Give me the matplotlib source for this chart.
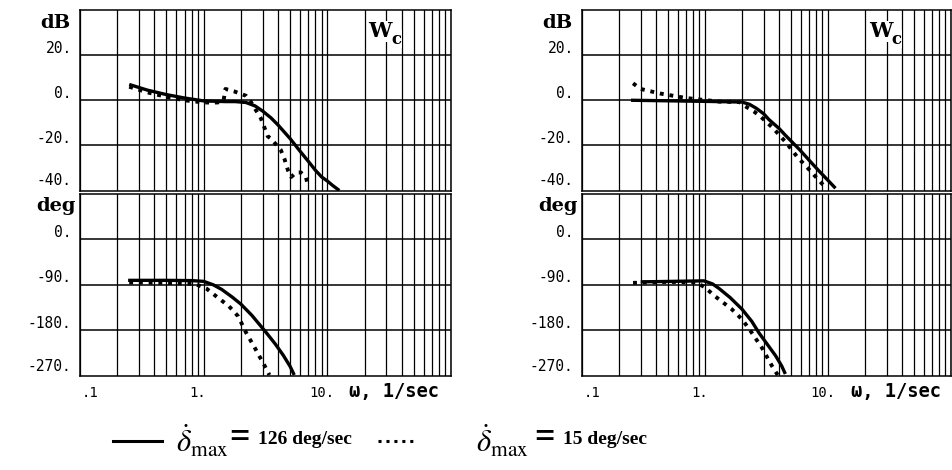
import matplotlib
matplotlib.use("Agg")
import matplotlib.pyplot as plt
from matplotlib.lines import Line2D
from matplotlib.ticker import NullFormatter, LogLocator, FixedLocator

plt.rcParams['mathtext.fontset'] = 'stix'

# ---------------- data ----------------
x_ticks = [0.1, 1.0, 10.0]
x_tick_labels = [".1", "1.", "10."]
mag_ticks = [20, 0, -20, -40]
mag_tick_labels = ["20.", "0.", "-20.", "-40."]
ph_ticks = [0, -90, -180, -270]
ph_tick_labels = ["0.", "-90.", "-180.", "-270."]

# left panel
L_mag_solid_w = [0.25, 0.35, 0.5, 0.7, 1.0, 1.5, 1.8, 2.2, 2.6, 3.0, 3.5, 4.0, 5.0, 6.0, 7.0, 8.0, 9.0, 10.0, 11.0, 12.5]
L_mag_solid_db = [7, 4.5, 2.5, 1, -0.3, -0.6, -0.6, -1.0, -2.5, -4.8, -7.8, -11, -17, -22.5, -27, -31, -34, -35.8, -37.7, -40]
L_mag_dot_w = [0.25, 0.35, 0.5, 0.7, 1.0, 1.3, 1.45, 1.5, 1.75, 2.2, 2.4, 2.9, 3.3, 3.5, 4.2, 4.5, 4.8, 5.1, 5.6, 6.1, 6.7, 7.0]
L_mag_dot_db = [6, 3.5, 1.5, 0, -1, -1, 0, 5, 4, 2, -0.6, -8, -16, -17, -22, -26, -31, -34, -32, -32, -34, -38]
L_ph_solid_w = [0.245, 0.5, 0.8, 1.0, 1.2, 1.4, 1.7, 2.0, 2.45, 2.8, 3.2, 3.8, 4.4, 5.0, 5.4]
L_ph_solid_deg = [-81, -81, -81.5, -83, -90, -99, -114, -128, -150, -167, -184, -207, -229, -251, -268]
L_ph_dot_w = [0.25, 0.5, 0.85, 1.05, 1.3, 1.6, 1.9, 2.2, 2.6, 3.1, 3.4]
L_ph_dot_deg = [-85, -86, -88, -97, -115, -132, -152, -184, -215, -249, -268]

# right panel
R_mag_solid_w = [0.25, 1.0, 2.0, 2.3, 2.6, 3.0, 3.3, 4.0, 4.5, 5.9, 7.0, 8.5, 10.0, 11.5]
R_mag_solid_db = [0, -0.5, -0.8, -1.8, -3.5, -6, -8.5, -12.5, -15.5, -22, -26.5, -31.5, -35.5, -39]
R_mag_dot_w = [0.26, 0.3, 0.43, 0.7, 1.3, 1.9, 2.1, 2.5, 2.8, 3.6, 4.6, 5.6, 7.1, 8.6, 9.5]
R_mag_dot_db = [7.5, 5, 3, 1, -0.6, -0.8, -2.5, -5, -7, -12.5, -19, -25, -31, -36, -38.5]
R_ph_solid_w = [0.3, 0.98, 1.15, 1.3, 1.6, 2.0, 2.4, 2.75, 3.2, 3.75, 4.2, 4.5]
R_ph_solid_deg = [-84, -82, -88, -97, -115, -138, -162, -185, -207, -230, -250, -266]
R_ph_dot_w = [0.26, 0.5, 0.85, 1.0, 1.2, 1.65, 2.0, 2.3, 2.9, 3.5, 3.9]
R_ph_dot_deg = [-86, -84, -85, -95, -112, -138, -158, -178, -214, -250, -268]

legend_solid = "126 deg/sec"
legend_dot = "15 deg/sec"

# ---------------- figure ----------------
W, H = 953, 470
fig = plt.figure(figsize=(W / 100, H / 100), dpi=100)

def fx(px):
    return px / W

def fy(py):
    return 1 - py / H

mono = "DejaVu Sans Mono"
serif = "DejaVu Serif"
DOT = (0, (1.0, 1.5))

def style_axes(ax, ylim, yticks):
    ax.set_xscale('log')
    ax.set_xlim(0.1, 100)
    ax.set_ylim(*ylim)
    ax.xaxis.set_major_locator(LogLocator(base=10, numticks=10))
    ax.xaxis.set_minor_locator(LogLocator(base=10, subs=range(2, 10), numticks=20))
    ax.yaxis.set_major_locator(FixedLocator(yticks))
    ax.xaxis.set_major_formatter(NullFormatter())
    ax.xaxis.set_minor_formatter(NullFormatter())
    ax.yaxis.set_major_formatter(NullFormatter())
    ax.tick_params(which='both', length=0)
    ax.grid(True, which='both', axis='x', color='black', lw=0.9)
    ax.grid(True, which='major', axis='y', color='black', lw=1.1)
    for s in ax.spines.values():
        s.set_linewidth(1.1)
        s.set_color('black')

def panel(x0, x1, mag_s, mag_d, ph_s, ph_d, label_x):
    top = fig.add_axes([fx(x0), fy(190.5), fx(x1 - x0), (190.5 - 10) / H])
    bot = fig.add_axes([fx(x0), fy(376), fx(x1 - x0), (376 - 193.8) / H])
    style_axes(top, (-40, 40), [20, 0, -20])
    style_axes(bot, (-270, 90), [0, -90, -180])

    top.plot(mag_s[0], mag_s[1], color='black', lw=2.4, solid_capstyle='butt', solid_joinstyle='round')
    top.plot(mag_d[0], mag_d[1], color='black', lw=2.8, linestyle=DOT)
    bot.plot(ph_s[0], ph_s[1], color='black', lw=2.4, solid_capstyle='butt', solid_joinstyle='round')
    bot.plot(ph_d[0], ph_d[1], color='black', lw=2.8, linestyle=DOT)

    # y tick labels
    for v, t in zip(mag_ticks, mag_tick_labels):
        top.annotate(t, xy=(0, v), xycoords=top.get_yaxis_transform(),
                     xytext=(-6, 5 if v != -40 else 7), textcoords='offset points',
                     ha='right', va='center', fontsize=10.5, family=mono)
    for v, t in zip(ph_ticks, ph_tick_labels):
        bot.annotate(t, xy=(0, v), xycoords=bot.get_yaxis_transform(),
                     xytext=(-6, 5 if v != -270 else 7), textcoords='offset points',
                     ha='right', va='center', fontsize=10.5, family=mono)
    top.annotate("dB", xy=(0, 1), xycoords='axes fraction', xytext=(-7, -9),
                 textcoords='offset points', ha='right', va='center',
                 fontsize=14, family=serif, fontweight='bold')
    bot.annotate("deg", xy=(0, 1), xycoords='axes fraction', xytext=(-3, -9),
                 textcoords='offset points', ha='right', va='center',
                 fontsize=14, family=serif, fontweight='bold')
    # x tick labels
    offs = [7, -4, -4]
    for v, t, o in zip(x_ticks, x_tick_labels, offs):
        bot.annotate(t, xy=(v, 0), xycoords=bot.get_xaxis_transform(),
                     xytext=(o, -12), textcoords='offset points',
                     ha='center', va='center', fontsize=10, family=mono)
    fig.text(fx(label_x), fy(391), "ω, 1/sec", ha='left', va='center',
             fontsize=13.5, family=mono, fontweight='bold')
    top.text(21.5, 30.5, "W", ha='left', va='center', fontsize=15,
             family=serif, fontweight='bold',
             bbox=dict(facecolor='white', edgecolor='none', pad=0.5))
    top.text(33.0, 27.0, "c", ha='left', va='center', fontsize=12,
             family=serif, fontweight='bold',
             bbox=dict(facecolor='white', edgecolor='none', pad=0.3))

panel(80, 451, (L_mag_solid_w, L_mag_solid_db), (L_mag_dot_w, L_mag_dot_db),
      (L_ph_solid_w, L_ph_solid_deg), (L_ph_dot_w, L_ph_dot_deg), 349)
panel(582, 951, (R_mag_solid_w, R_mag_solid_db), (R_mag_dot_w, R_mag_dot_db),
      (R_ph_solid_w, R_ph_solid_deg), (R_ph_dot_w, R_ph_dot_deg), 851)

# ---------------- legend ----------------
ly = 441
fig.add_artist(Line2D([fx(113), fx(162)], [fy(ly), fy(ly)], color='black', lw=2.2))
fig.add_artist(Line2D([fx(378), fx(415)], [fy(ly), fy(ly)], color='black', lw=2.2,
                      linestyle=(0, (1.0, 1.6))))
sym = r"$\dot{\delta}_{\mathrm{max}}$"
for xs, xe, xt, txt in [(176, 229, 258, legend_solid), (476, 534, 563, legend_dot)]:
    fig.text(fx(xs), fy(ly), sym, ha='left', va='center', fontsize=22)
    fig.text(fx(xe), fy(ly - 3), "=", ha='left', va='center', fontsize=26,
             family='Liberation Serif', fontweight='bold')
    fig.text(fx(xt), fy(ly - 2), txt, ha='left', va='center', fontsize=14,
             family='Liberation Serif', fontweight='bold')

fig.savefig("out.png", dpi=100)
